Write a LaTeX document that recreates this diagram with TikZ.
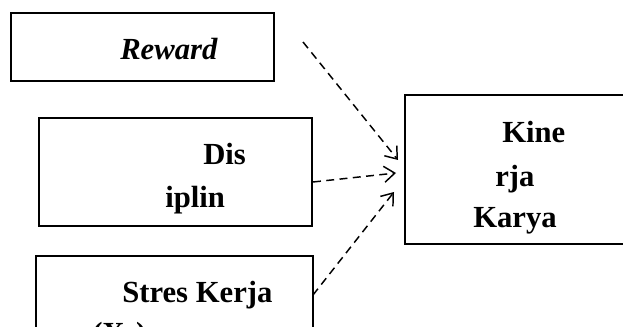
\documentclass[tikz,border=0pt]{standalone}
\usepackage{fontspec}
\setmainfont{Liberation Serif}
\usetikzlibrary{arrows.meta}
\begin{document}
\begin{tikzpicture}[x=0.75pt,y=-0.75pt,
  box/.style={draw, line width=1.5pt, inner sep=0pt, anchor=north west},
  frame/.style={line width=1.5pt},
  lbl/.style={inner sep=0pt, anchor=base west, font=\fontsize{23}{31}\selectfont\bfseries},
  link/.style={line width=1.1pt, dash pattern=on 6pt off 4pt,
    -{Straight Barb[length=8pt,width=12pt,line width=1.1pt]}}]
\useasboundingbox (0,0) rectangle (623,327);
\clip (0,0) rectangle (623,327);
% input variables
\node[box, minimum width=263*0.75pt, minimum height=68*0.75pt] (reward) at (10,12) {};
\node[box, minimum width=273*0.75pt, minimum height=108*0.75pt] (disiplin) at (38,117) {};
\node[box, minimum width=277*0.75pt, minimum height=100*0.75pt] (stres) at (35,255) {};
% outcome variable, running off the right edge
\node[inner sep=0pt, anchor=north west, minimum width=300*0.75pt, minimum height=148*0.75pt] (kinerja) at (405,95) {};
\draw[frame] (kinerja.north east) -- (kinerja.north west) -- (kinerja.south west) -- (kinerja.south east);
% labels
\node[lbl] (treward) at (120,60) {\textit{Reward}};
\node[lbl] (tdis) at (203,165) {Dis};
\node[lbl] (tiplin) at (165,208) {iplin};
\node[lbl] (tstres) at (122,302) {Stres Kerja};
\node[lbl] (tx) at (92,343) {(X\textsubscript{3})};
\node[lbl] (tkine) at (502,143) {Kine};
\node[lbl] (trja) at (495,187) {rja};
\node[lbl] (tkarya) at (473,228) {Karya};
% connectors
\coordinate (s1) at (303,42);
\coordinate (e1) at (398,160);
\coordinate (s3) at (313,295);
\coordinate (e2) at (396,173);
\coordinate (e3) at (394,192);
\draw[link] (s1) -- (e1);
\draw[link] (disiplin.east |- 0,182) -- (e2);
\draw[link] (s3) -- (e3);
\end{tikzpicture}
\end{document}
